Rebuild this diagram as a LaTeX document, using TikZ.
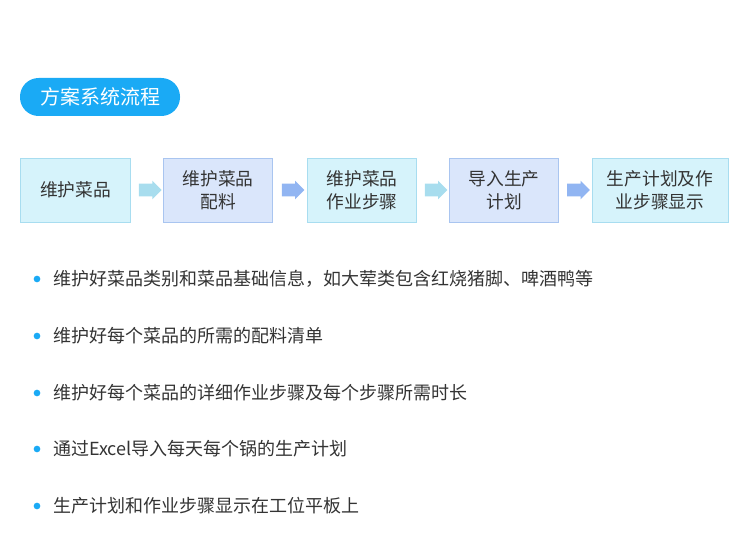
\documentclass[tikz,border=0pt]{standalone}
\usepackage{fontspec}
\setmainfont{Noto Sans CJK SC}
\usetikzlibrary{shapes.arrows,calc}
\definecolor{pillblue}{HTML}{1AAAF5}
\definecolor{cyanfill}{HTML}{D6F3FB}
\definecolor{cyanline}{HTML}{A8DDF0}
\definecolor{bluefill}{HTML}{DAE6FB}
\definecolor{blueline}{HTML}{A9C5F0}
\definecolor{cyanarrow}{HTML}{A8DDEE}
\definecolor{bluearrow}{HTML}{91B5F2}
\definecolor{textgray}{HTML}{333333}
\tikzset{
  stepbox/.style={draw, line width=0.75pt, minimum height=48pt, inner sep=0pt,
    align=center, font=\fontsize{13.3}{17.5}\selectfont, text=textgray},
  cyanbox/.style={stepbox, fill=cyanfill, draw=cyanline},
  bluebox/.style={stepbox, fill=bluefill, draw=blueline},
  flowarrow/.style={single arrow, draw=none, minimum height=17pt, inner sep=4.5pt,
    single arrow head extend=2.25pt},
  bulletdot/.style={circle, fill=pillblue, inner sep=0pt, minimum size=5pt},
  itemtext/.style={anchor=west, font=\fontsize{13.5}{16}\selectfont, text=textgray, inner sep=0pt}
}
\begin{document}
\begin{tikzpicture}[x=0.75pt,y=-0.75pt]
\useasboundingbox (0,0) rectangle (750,560);
% title
\node [fill=pillblue, rounded corners=14pt, minimum width=120pt, minimum height=28.5pt,
  text=white, font=\fontsize{15}{18}\selectfont] (title) at (100,97) {方案系统流程};
% flow boxes
\node [cyanbox, minimum width=83pt] (b1) at (75.5,190) {维护菜品};
\node [bluebox, minimum width=82pt] (b2) at (218,190) {维护菜品\\配料};
\node [cyanbox, minimum width=82pt] (b3) at (362,190) {维护菜品\\作业步骤};
\node [bluebox, minimum width=82pt] (b4) at (504,190) {导入生产\\计划};
\node [cyanbox, minimum width=102pt] (b5) at (660,190) {生产计划及作\\业步骤显示};
% arrows
\node [flowarrow, fill=cyanarrow] (a1) at ($(b1.east)!0.5!(b2.west)$) {};
\node [flowarrow, fill=bluearrow] (a2) at ($(b2.east)!0.5!(b3.west)$) {};
\node [flowarrow, fill=cyanarrow] (a3) at ($(b3.east)!0.5!(b4.west)$) {};
\node [flowarrow, fill=bluearrow] (a4) at ($(b4.east)!0.5!(b5.west)$) {};
% items
\foreach \y/\txt [count=\i] in {
  279/{维护好菜品类别和菜品基础信息，如大荤类包含红烧猪脚、啤酒鸭等},
  336/{维护好每个菜品的所需的配料清单},
  393/{维护好每个菜品的详细作业步骤及每个步骤所需时长},
  449/{通过Excel导入每天每个锅的生产计划},
  506/{生产计划和作业步骤显示在工位平板上}} {
  \node [bulletdot] (dot\i) at (37,\y) {};
  \node [itemtext] (item\i) at (53,\y) {\txt};
}
\end{tikzpicture}
\end{document}
